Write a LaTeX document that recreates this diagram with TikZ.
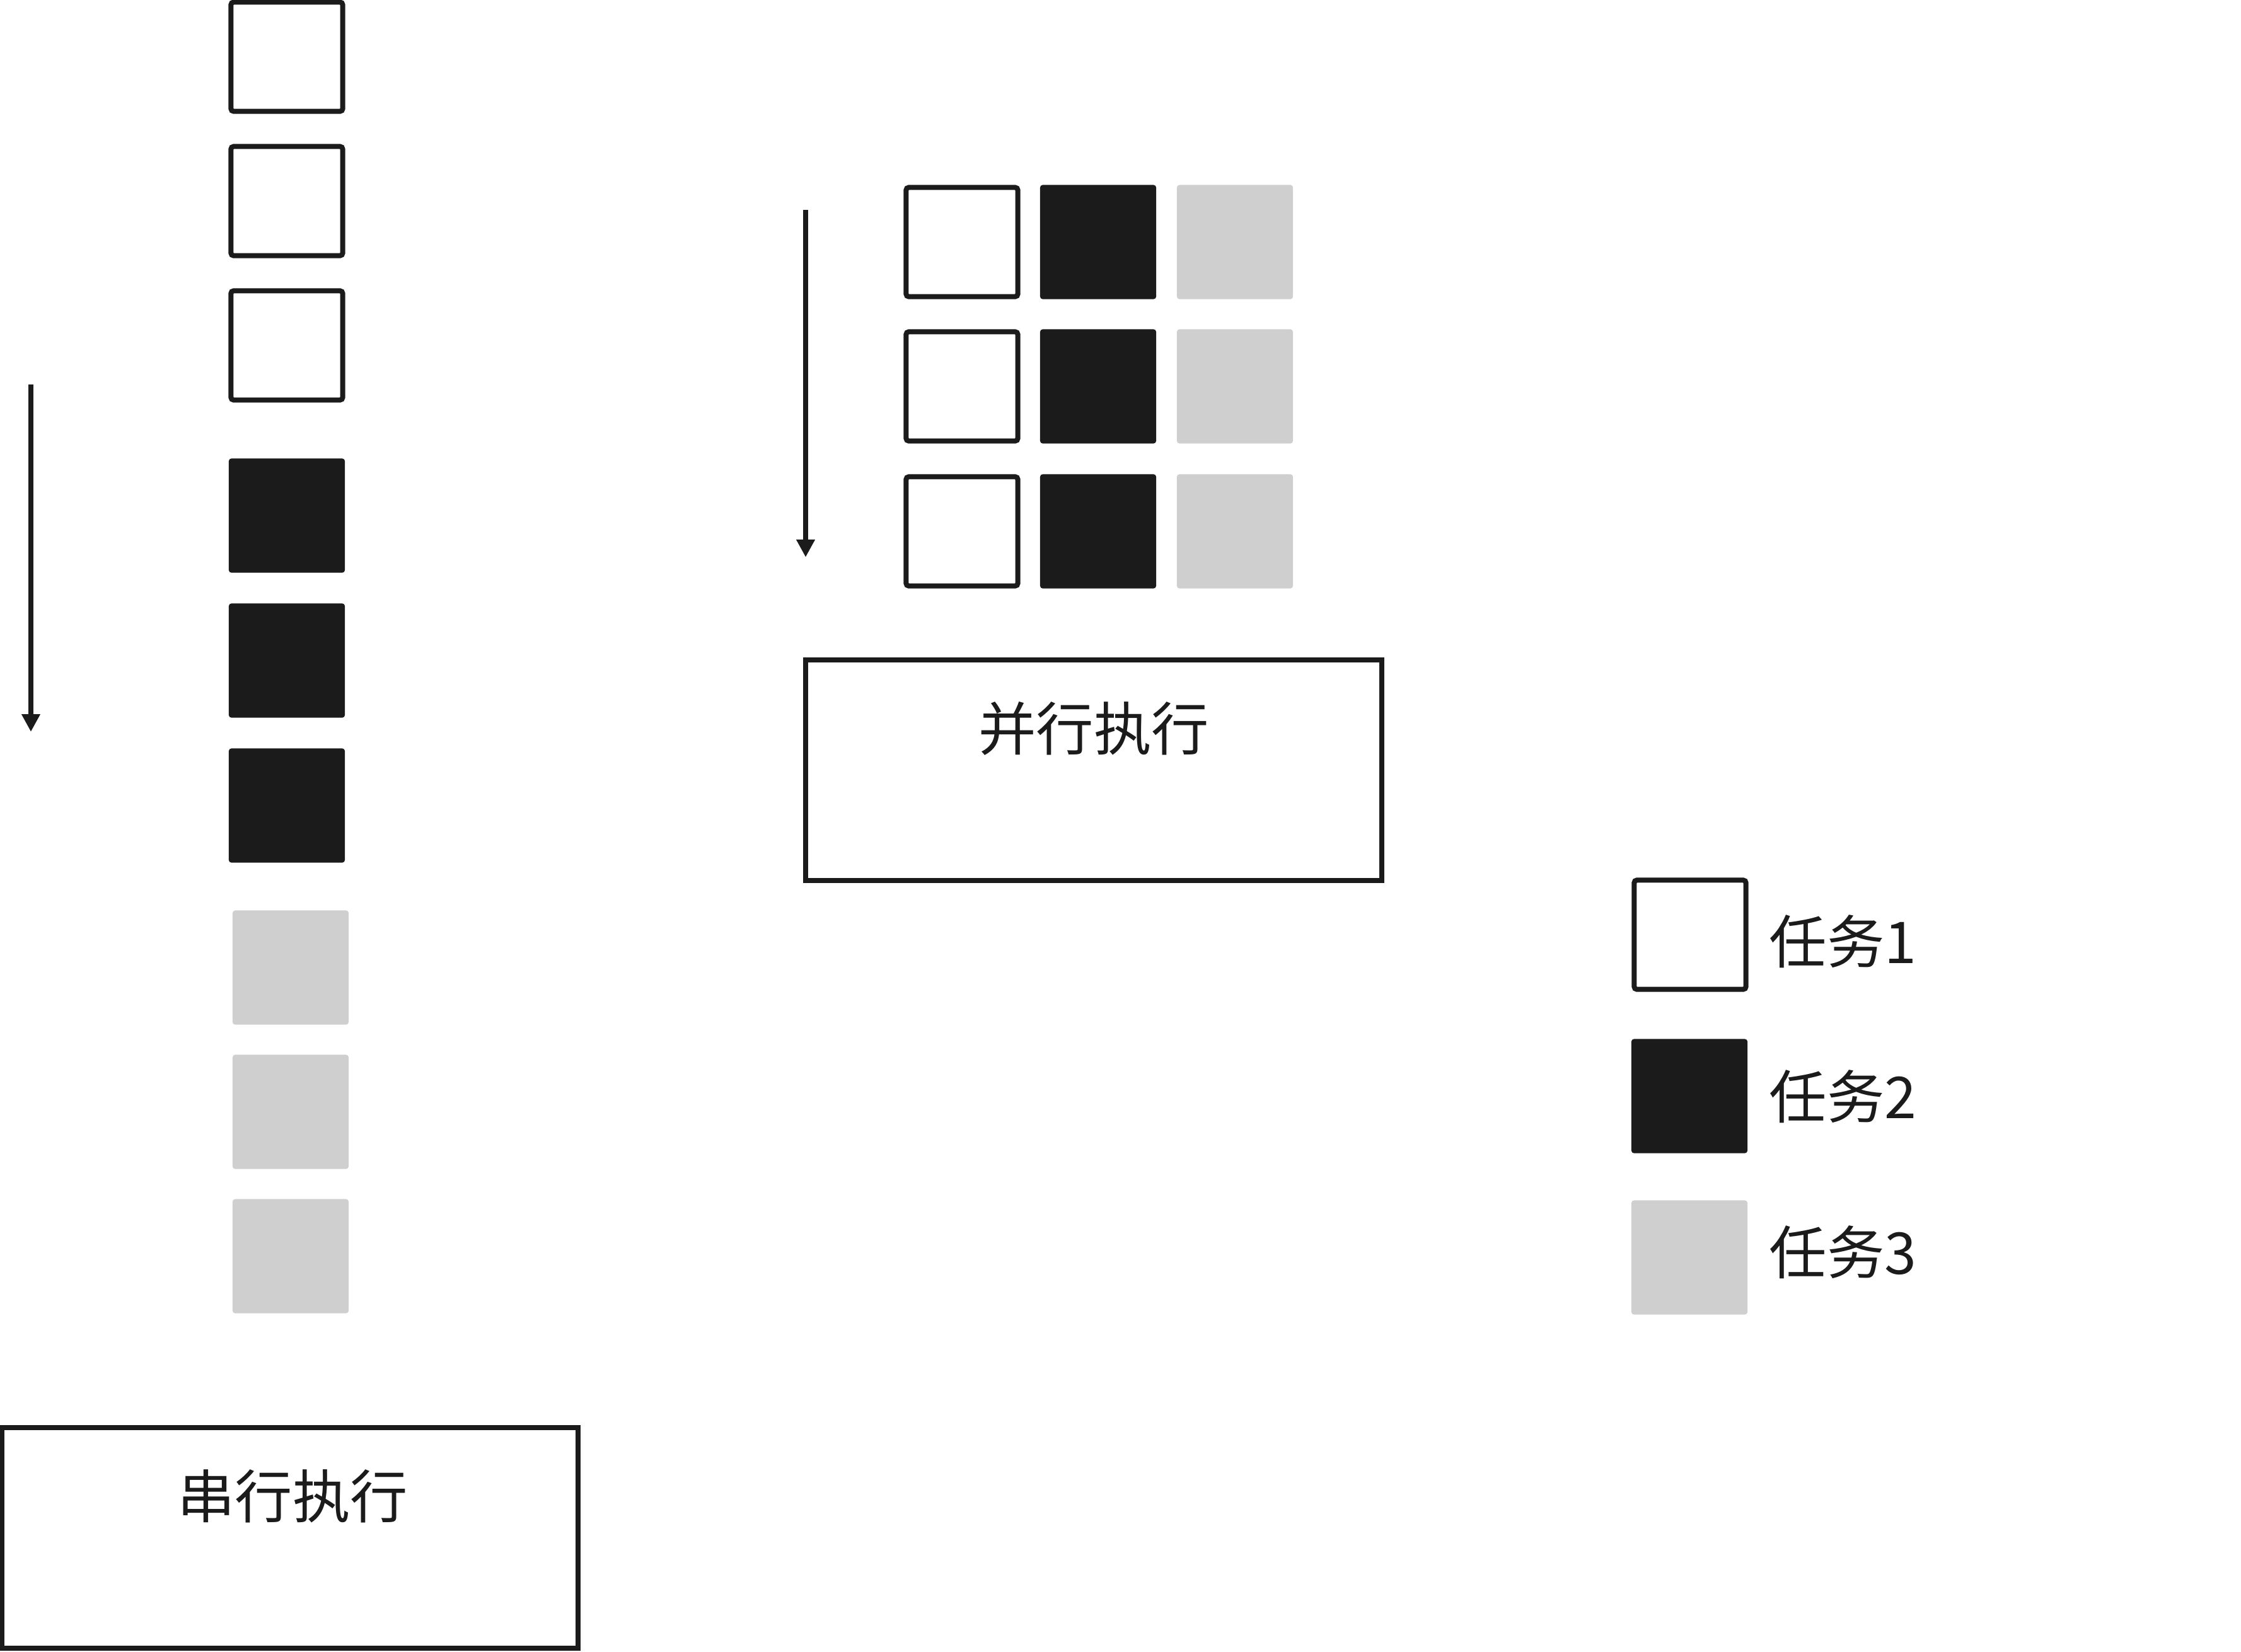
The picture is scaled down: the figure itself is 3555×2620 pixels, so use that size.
\documentclass[tikz,border=0pt]{standalone}
\usepackage{fontspec}
\setmainfont{Noto Sans CJK SC}
\usepackage{xcolor}
\definecolor{inkdark}{RGB}{27,27,27}
\definecolor{taskgray}{RGB}{207,207,207}
\usetikzlibrary{arrows.meta}
\tikzset{
taskone/.style={draw=inkdark,fill=white,line width=0.08cm,rounded corners=0.04cm,minimum width=1.77cm,minimum height=1.73cm,inner sep=0pt},
tasktwo/.style={fill=inkdark,rounded corners=0.04cm,minimum width=1.84cm,minimum height=1.81cm,inner sep=0pt},
taskthree/.style={fill=taskgray,rounded corners=0.04cm,minimum width=1.84cm,minimum height=1.81cm,inner sep=0pt},
execbox/.style={draw=inkdark,line width=0.08cm,minimum width=9.14cm,minimum height=3.49cm,inner sep=0pt},
tasktext/.style={text=inkdark,font=\fontsize{26pt}{30pt}\selectfont,inner sep=0pt},
timeline/.style={draw=inkdark,line width=0.084cm,-{Triangle[width=0.28cm,length=0.28cm]}},
}

\begin{document}
\begin{tikzpicture}[x=0.01cm,y=-0.01cm]
\useasboundingbox (0,0) rectangle (3555,2620);
\node[taskone] (s1) at (455,90){};
\node[taskone] (s2) at (455,319){};
\node[taskone] (s3) at (455,548){};
\node[tasktwo] (s4) at (455,818){};
\node[tasktwo] (s5) at (455,1048){};
\node[tasktwo] (s6) at (455,1278){};
\node[taskthree] (s7) at (461,1535){};
\node[taskthree] (s8) at (461,1764){};
\node[taskthree] (s9) at (461,1993){};
\coordinate (sstart) at (49,610);
\coordinate (send) at (49,1161);
\draw[timeline] (sstart) -- (send);
\node[execbox] (serial) at (460,2440){};
\node[tasktext] (serialtxt) at (464,2374){串行执行};
\node[taskone] (p11) at (1526,384){};
\node[tasktwo] (p12) at (1742,384){};
\node[taskthree] (p13) at (1959,384){};
\node[taskone] (p21) at (1526,613){};
\node[tasktwo] (p22) at (1742,613){};
\node[taskthree] (p23) at (1959,613){};
\node[taskone] (p31) at (1526,843){};
\node[tasktwo] (p32) at (1742,843){};
\node[taskthree] (p33) at (1959,843){};
\coordinate (pstart) at (1278,333);
\coordinate (pend) at (1278,884);
\draw[timeline] (pstart) -- (pend);
\node[execbox] (parallel) at (1735,1222){};
\node[tasktext] (paralleltxt) at (1735,1156){并行执行};
\node[taskone] (key1) at (2681,1483){};
\node[tasktwo] (key2) at (2680,1739){};
\node[taskthree] (key3) at (2680,1995){};
\node[tasktext,anchor=west] (keytxt1) at (2806,1494){任务1};
\node[tasktext,anchor=west] (keytxt2) at (2806,1740){任务2};
\node[tasktext,anchor=west] (keytxt3) at (2806,1987){任务3};
\end{tikzpicture}
\end{document}
